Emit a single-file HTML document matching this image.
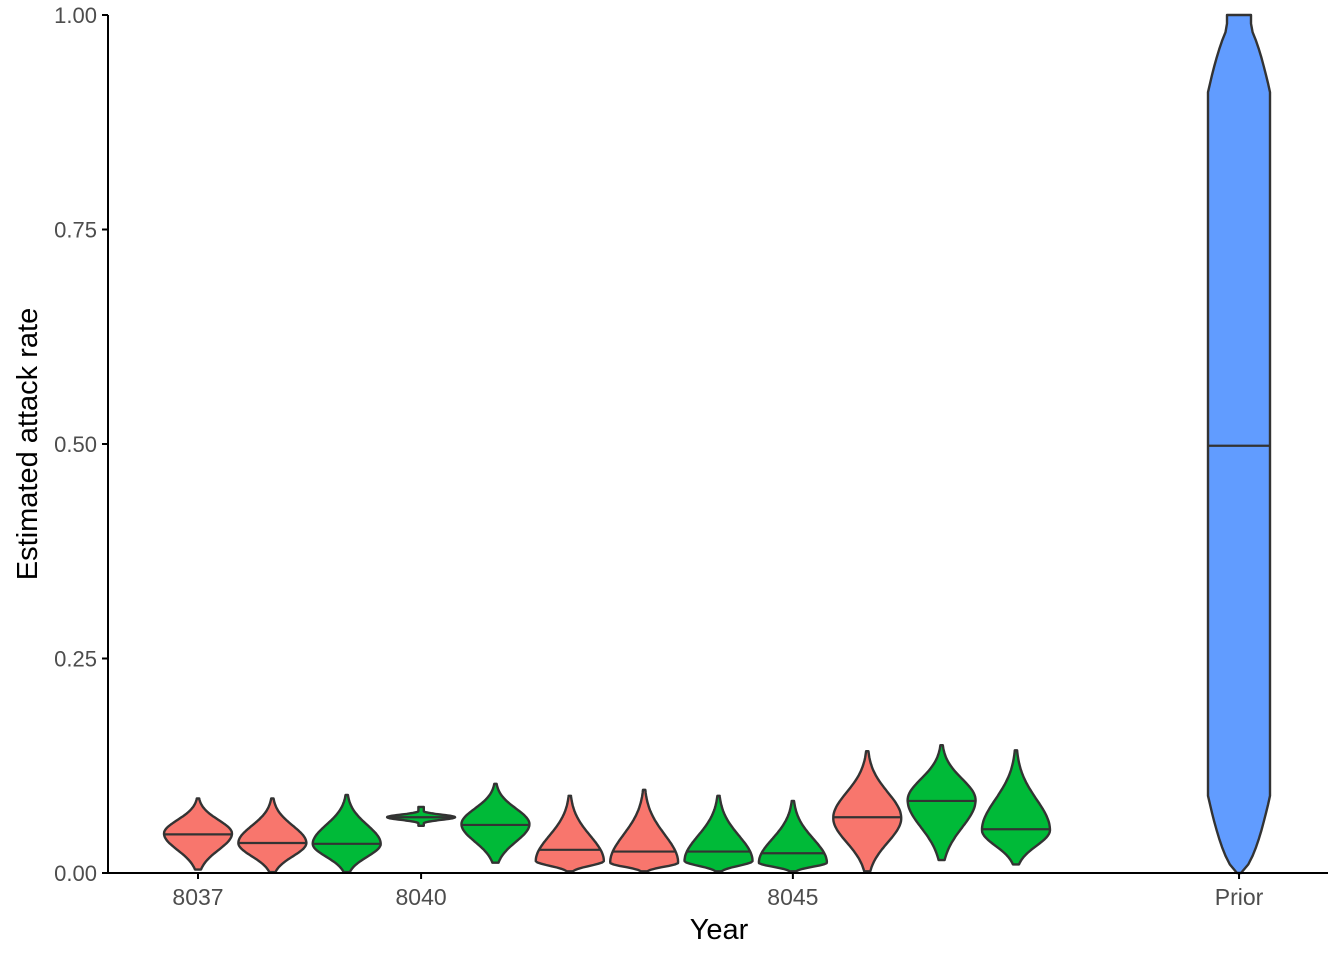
<!DOCTYPE html>
<html><head><meta charset="utf-8"><style>
body{margin:0;background:#fff;}
svg{display:block;font-family:"Liberation Sans",Arial,sans-serif;}
</style></head><body>
<svg id="chart" width="1344" height="960"></svg>
<script>
const years = [8037,8038,8039,8040,8041,8042,8043,8044,8045,8046,8047,8048];
const groups = ["a","a","b","b","b","a","a","b","b","a","b","b"];
const mins = [0.004,0.001,0.001,0.055,0.012,0.002,0.002,0.002,0.002,0.002,0.015,0.010];
const maxs = [0.087,0.087,0.091,0.077,0.104,0.090,0.097,0.090,0.084,0.142,0.149,0.143];
const modes = [0.046,0.035,0.034,0.065,0.057,0.014,0.012,0.014,0.012,0.064,0.085,0.050];
const medians = [0.045,0.035,0.034,0.065,0.056,0.027,0.025,0.025,0.023,0.065,0.084,0.051];
const xTicks = [8037,8040,8045];
const yTicks = [0,0.25,0.5,0.75,1];
const yTickLabels = ["0.00","0.25","0.50","0.75","1.00"];
const priorPos = 8051, priorMedian = 0.498;
const colors = {a:"#F8766D", b:"#00BA38", prior:"#619CFF"};

const NS="http://www.w3.org/2000/svg";
const svg=document.getElementById('chart');
const X0=108,X1=1328,Y0=873,Y1=15;
const xs=v=>198+(v-8037)*74.36;
const ys=v=>Y0-(v)*(Y0-Y1);
function mk(t,a,p){const e=document.createElementNS(NS,t);for(const k in a)e.setAttribute(k,a[k]);(p||svg).appendChild(e);return e;}

years.forEach((yr,i)=>{
  const mn=mins[i],mx=maxs[i],md=modes[i];
  const cx=xs(yr), hw=34;
  const sl=(md-mn)/2.2||0.001, su=(mx-md)/2.6||0.001;
  const left=[],right=[];
  const N=60;
  for(let k=0;k<=N;k++){
    const v=mn+(mx-mn)*k/N;
    let w = v<md ? Math.exp(-0.5*((md-v)/sl)**2) : Math.exp(-0.5*((v-md)/su)**2);
    w=Math.max(w,0.03);
    if(i===3) w = Math.max(0.08, Math.exp(-0.5*((v-md)/0.003)**2));
    const px=w*hw;
    right.push((cx+px).toFixed(1)+","+ys(v).toFixed(1));
    left.unshift((cx-px).toFixed(1)+","+ys(v).toFixed(1));
  }
  const p=mk('polygon',{points:right.concat(left).join(' '),fill:colors[groups[i]],stroke:'#333',"stroke-width":2.4,"stroke-linejoin":"round"});
  
  
  const v=medians[i]; let w = v<md ? Math.exp(-0.5*((md-v)/sl)**2) : Math.exp(-0.5*((v-md)/su)**2);
  if(i===3) w=1;
  const l=mk('line',{x1:cx-w*hw,x2:cx+w*hw,y1:ys(v),y2:ys(v),stroke:'#333',"stroke-width":2.2});
  
  
});
(function(){
  const cx=xs(priorPos),right=[],left=[];
  for(let k=0;k<=100;k++){
    const v=k/100;
    const dEnd=Math.min(v,1-v);
    let w=31*Math.min(1,Math.pow(dEnd/0.09,0.55));
    if(v>0.5) w=Math.max(w,12);
    else w=Math.max(w,2);
    right.push((cx+w).toFixed(1)+","+ys(v).toFixed(1));
    left.unshift((cx-w).toFixed(1)+","+ys(v).toFixed(1));
  }
  const p=mk('polygon',{points:right.concat(left).join(' '),fill:colors.prior,stroke:'#333',"stroke-width":2.4,"stroke-linejoin":"round"});
  
  
  const l=mk('line',{x1:cx-31,x2:cx+31,y1:ys(priorMedian),y2:ys(priorMedian),stroke:'#333',"stroke-width":2.2});
  
  
})();
const ya=mk('line',{x1:X0,x2:X0,y1:Y1,y2:Y0,stroke:'#000',"stroke-width":2});

const xa=mk('line',{x1:X0,x2:X1,y1:Y0,y2:Y0,stroke:'#000',"stroke-width":2});

yTicks.forEach((t,i)=>{
  mk('line',{x1:X0-6,x2:X0,y1:ys(t),y2:ys(t),stroke:'#000',"stroke-width":2});
  const tx=mk('text',{x:X0-11,y:ys(t)+8,"text-anchor":"end","font-size":22,fill:'#4d4d4d'});
  tx.textContent=yTickLabels[i];
  
  
});
xTicks.concat([priorPos]).forEach((t,i)=>{
  mk('line',{x1:xs(t),x2:xs(t),y1:Y0,y2:Y0+6,stroke:'#000',"stroke-width":2});
  const tx=mk('text',{x:xs(t),y:Y0+32,"text-anchor":"middle","font-size":23,fill:'#4d4d4d'});
  tx.textContent= t===priorPos?"Prior":String(t);
  
  
});
const xt=mk('text',{x:719,y:939,"text-anchor":"middle","font-size":29,fill:'#000'});
xt.textContent="Year";


const yt=mk('text',{x:0,y:0,"text-anchor":"middle","font-size":29,fill:'#000',transform:'translate(37,444) rotate(-90)'});
yt.textContent="Estimated attack rate";


</script>
</body></html>
